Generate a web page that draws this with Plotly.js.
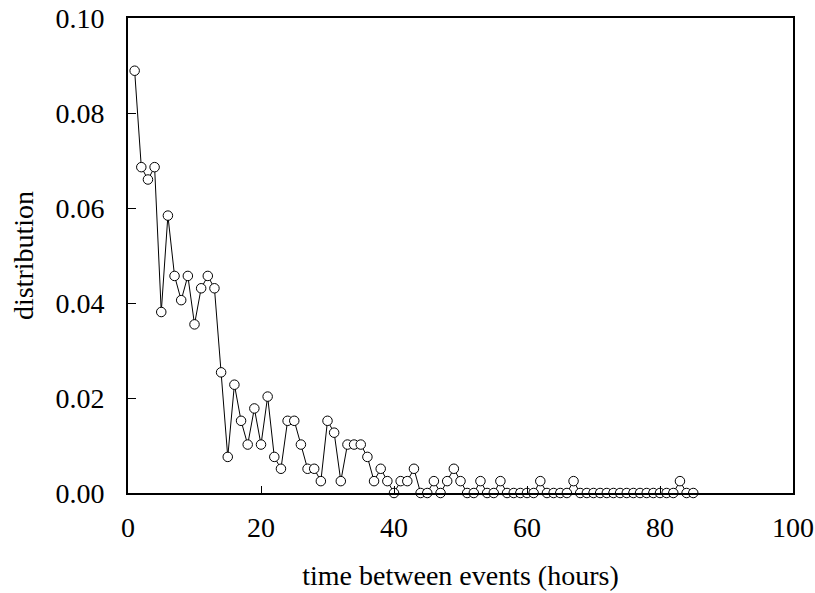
<!DOCTYPE html>
<html>
<head>
<meta charset="utf-8">
<script src="https://cdn.plot.ly/plotly-3.0.1.min.js"></script>
<style>
  html, body { margin: 0; padding: 0; background: #fff; }
  #chart { width: 815px; height: 593px; }
</style>
</head>
<body>
<div id="chart"></div>
<script>
// Waiting time between consecutive events, in hours (1..85)
const hours = Array.from({length: 85}, (_, i) => i + 1);

// Fraction of intervals observed at each waiting time
const distribution = [
  0.0889, 0.0686, 0.0660, 0.0686, 0.0381, 0.0584, 0.0457, 0.0406, 0.0457, 0.0355,
  0.0431, 0.0457, 0.0431, 0.0254, 0.0076, 0.0228, 0.0152, 0.0102, 0.0178, 0.0102,
  0.0203, 0.0076, 0.0051, 0.0152, 0.0152, 0.0102, 0.0051, 0.0051, 0.0025, 0.0152,
  0.0127, 0.0025, 0.0102, 0.0102, 0.0102, 0.0076, 0.0025, 0.0051, 0.0025, 0.0000,
  0.0025, 0.0025, 0.0051, 0.0000, 0.0000, 0.0025, 0.0000, 0.0025, 0.0051, 0.0025,
  0.0000, 0.0000, 0.0025, 0.0000, 0.0000, 0.0025, 0.0000, 0.0000, 0.0000, 0.0000,
  0.0000, 0.0025, 0.0000, 0.0000, 0.0000, 0.0000, 0.0025, 0.0000, 0.0000, 0.0000,
  0.0000, 0.0000, 0.0000, 0.0000, 0.0000, 0.0000, 0.0000, 0.0000, 0.0000, 0.0000,
  0.0000, 0.0000, 0.0025, 0.0000, 0.0000
];

const xTicks = [0, 20, 40, 60, 80, 100];
const yTicks = [0.00, 0.02, 0.04, 0.06, 0.08, 0.10];

const serif = 'Liberation Serif, Times New Roman, serif';
const textFont = { family: serif, size: 28, color: '#000' };

const trace = {
  x: hours,
  y: distribution,
  type: 'scatter',
  mode: 'lines+markers',
  line: { color: '#000', width: 1 },
  marker: {
    symbol: 'circle',
    size: 9.5,
    color: '#fff',
    line: { color: '#000', width: 1 }
  },
  cliponaxis: false,
  hoverinfo: 'x+y'
};

const layout = {
  width: 815,
  height: 593,
  margin: { l: 128, r: 22, t: 18, b: 100 },
  paper_bgcolor: '#fff',
  plot_bgcolor: '#fff',
  showlegend: false,
  font: textFont,
  xaxis: {
    range: [0, 100],
    tickvals: xTicks,
    ticktext: xTicks.map(String),
    ticks: 'inside',
    ticklen: 7,
    tickwidth: 1,
    tickcolor: '#000',
    ticklabelstandoff: 8,
    showline: true,
    linecolor: '#000',
    linewidth: 2,
    mirror: true,
    showgrid: false,
    zeroline: false,
    tickfont: textFont,
    title: { text: 'time between events (hours)', font: textFont, standoff: 24 }
  },
  yaxis: {
    range: [0, 0.1],
    tickvals: yTicks,
    ticktext: yTicks.map(v => v.toFixed(2)),
    ticks: 'inside',
    ticklen: 8,
    tickwidth: 1,
    tickcolor: '#000',
    ticklabelstandoff: 16,
    showline: true,
    linecolor: '#000',
    linewidth: 2,
    mirror: true,
    showgrid: false,
    zeroline: false,
    tickfont: textFont,
    title: { text: 'distribution', font: textFont, standoff: 14 }
  }
};

Plotly.newPlot('chart', [trace], layout, { displayModeBar: false, staticPlot: true });
</script>
</body>
</html>
